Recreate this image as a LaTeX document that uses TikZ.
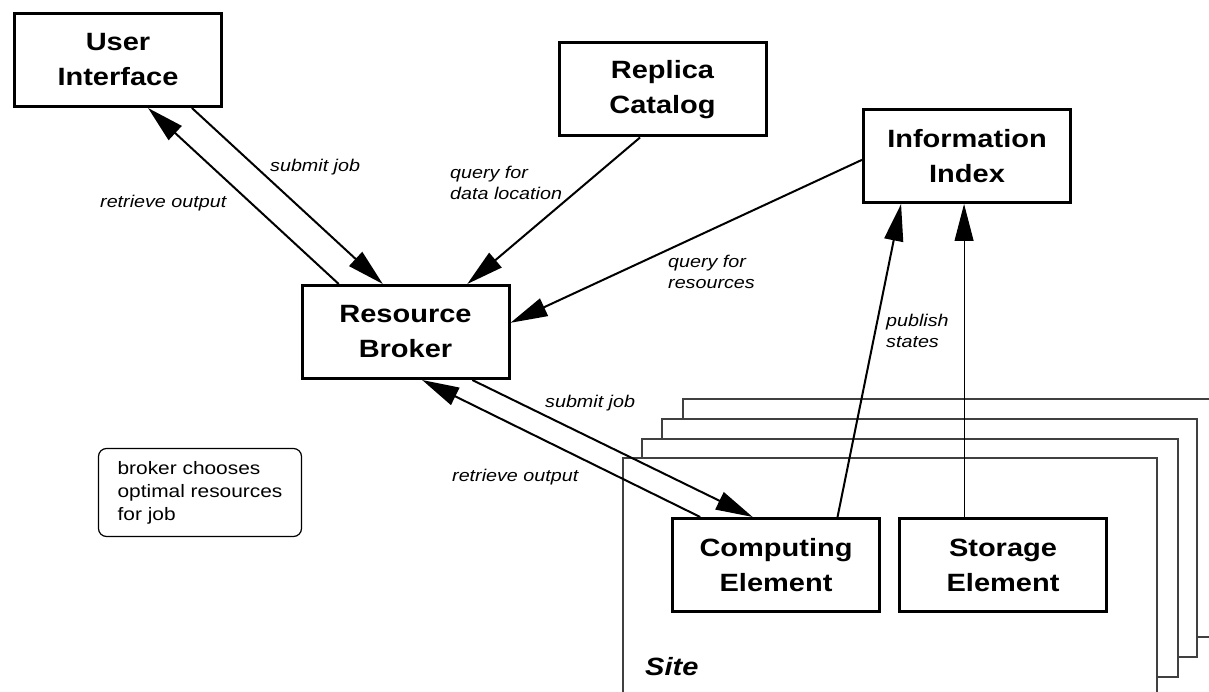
\documentclass[tikz,border=0pt]{standalone}
\usepackage{fontspec}
\setmainfont[FakeStretch=1.16]{Liberation Sans}
\usetikzlibrary{arrows.meta,calc}

\tikzset{
  comp/.style={draw, line width=3pt, fill=white, minimum width=207pt,
    minimum height=93pt, inner sep=0pt, align=center,
    font=\fontsize{25}{35}\selectfont\bfseries},
  flow/.style={line width=2pt, -{Triangle[length=37pt,width=19pt]}},
  thinflow/.style={line width=1pt, -{Triangle[length=37pt,width=19pt]}},
  lbl/.style={inner sep=0pt, anchor=west, align=left,
    font=\fontsize{17}{21}\selectfont\itshape},
  sitebox/.style={draw=black!75, line width=1.2pt, fill=white},
  notebox/.style={draw, line width=1.2pt, rounded corners=8pt,
    minimum width=203pt, minimum height=88pt, inner sep=0pt, align=left,
    font=\fontsize{18}{23}\selectfont},
}

\begin{document}
\begin{tikzpicture}[x=1pt,y=-1pt]
\useasboundingbox (0,0) rectangle (1209,692);

% stacked sites, back to front
\begin{scope}
  \clip (0,0) rectangle (1209,692);
  \draw[sitebox] (683,399) rectangle (1230,637);
  \draw[sitebox] (662,419) rectangle (1197,657);
  \draw[sitebox] (642,439) rectangle (1178,677);
  \draw[sitebox] (623,458) rectangle (1157,720);
\end{scope}
\node[inner sep=0pt, anchor=west, font=\fontsize{25}{30}\selectfont\bfseries\itshape] (site) at (645,667) {Site};

% components
\node[comp] (ui) at (118,60)     {User\\Interface};
\node[comp] (rc) at (662.5,89.5) {Replica\\Catalog};
\node[comp] (ii) at (967,156)    {Information\\Index};
\node[comp] (rb) at (405.5,332)  {Resource\\Broker};
\node[comp] (ce) at (776,565)    {Computing\\Element};
\node[comp] (se) at (1003,565)   {Storage\\Element};

\node[notebox] (note) at (200,492.5) {broker chooses\\optimal resources\\for job};

% user interface <-> broker
\draw[flow] ($(rb.north west)!0.182!(rb.north east)$) -- ($(ui.south west)!0.643!(ui.south east)$);
\draw[flow] ($(ui.south west)!0.852!(ui.south east)$) -- ($(rb.north west)!0.392!(rb.north east)$);
% catalog and index queries
\draw[flow] ($(rc.south west)!0.393!(rc.south east)$) -- ($(rb.north west)!0.794!(rb.north east)$);
\draw[flow] ($(ii.north west)!0.54!(ii.south west)$) -- ($(rb.north east)!0.404!(rb.south east)$);
% broker <-> computing element
\draw[flow] ($(ce.north west)!0.139!(ce.north east)$) -- ($(rb.south west)!0.579!(rb.south east)$);
\draw[flow] ($(rb.south west)!0.818!(rb.south east)$) -- ($(ce.north west)!0.389!(ce.north east)$);
% state publishing
\draw[flow] ($(ce.north west)!0.793!(ce.north east)$) -- ($(ii.south west)!0.186!(ii.south east)$);
\coordinate (sx) at ($(ii.south west)!0.486!(ii.south east)$);
\draw[thinflow] (sx |- se.north) -- (sx);

% connector labels
\node[lbl] (l1) at (270,167) {submit job};
\node[lbl] (l2) at (100,203) {retrieve output};
\node[lbl] (l3) at (450,183) {query for\\data location};
\node[lbl] (l4) at (668,272) {query for\\resources};
\node[lbl] (l5) at (545,403) {submit job};
\node[lbl] (l6) at (452,477) {retrieve output};
\node[lbl] (l7) at (886,331) {publish\\states};
\end{tikzpicture}
\end{document}
